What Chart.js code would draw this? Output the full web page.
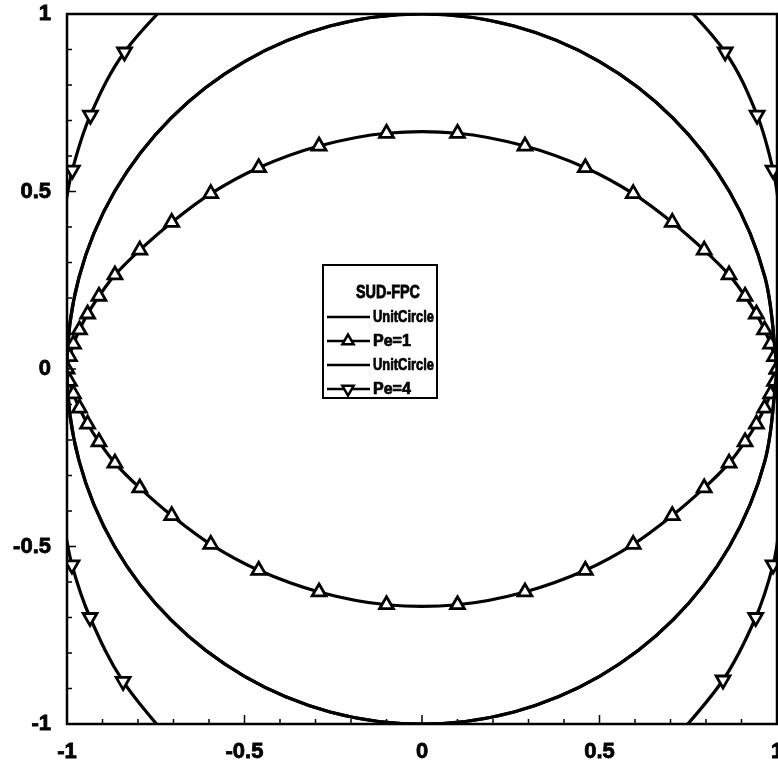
<!DOCTYPE html>
<html>
<head>
<meta charset="utf-8">
<script src="https://cdn.jsdelivr.net/npm/chart.js@4.4.1/dist/chart.umd.min.js"></script>
<style>
  html, body { margin: 0; padding: 0; background: #fff; overflow: hidden; }
  #wrap { width: 800px; height: 762px; }
</style>
</head>
<body>
<div id="wrap"><canvas id="chart"></canvas></div>
<script>
const circleX = [1, 0.966, 0.866, 0.707, 0.5, 0.259, 0, -0.259, -0.5, -0.707, -0.866, -0.966, -1,
                 -0.966, -0.866, -0.707, -0.5, -0.259, 0, 0.259, 0.5, 0.707, 0.866, 0.966, 1];
const circleY = [0, 0.259, 0.5, 0.707, 0.866, 0.966, 1, 0.966, 0.866, 0.707, 0.5, 0.259, 0,
                 -0.259, -0.5, -0.707, -0.866, -0.966, -1, -0.966, -0.866, -0.707, -0.5, -0.259, 0];

// Pe=1 (Dreiecke nach oben), oben von rechts nach links, unten zurueck
const pe1X = [1, 0.993, 0.982, 0.965, 0.942, 0.91, 0.865, 0.795, 0.705, 0.595, 0.46, 0.29, 0.1,
              -0.1, -0.29, -0.46, -0.595, -0.705, -0.795, -0.865, -0.91, -0.942, -0.965, -0.982, -0.993, -1,
              -0.993, -0.982, -0.965, -0.942, -0.91, -0.865, -0.795, -0.705, -0.595, -0.46, -0.29, -0.1,
              0.1, 0.29, 0.46, 0.595, 0.705, 0.795, 0.865, 0.91, 0.942, 0.965, 0.982, 0.993, 1];
const pe1Y = [0, 0.035, 0.07, 0.11, 0.155, 0.205, 0.265, 0.335, 0.413, 0.494, 0.567, 0.628, 0.664,
              0.664, 0.628, 0.567, 0.494, 0.413, 0.335, 0.265, 0.205, 0.155, 0.11, 0.07, 0.035, 0,
              -0.035, -0.07, -0.11, -0.155, -0.205, -0.265, -0.335, -0.413, -0.494, -0.567, -0.628, -0.664,
              -0.664, -0.628, -0.567, -0.494, -0.413, -0.335, -0.265, -0.205, -0.155, -0.11, -0.07, -0.035, 0];

// Pe=4 (Dreiecke nach unten), vier Boegen in den Ecken, null = Luecke
const pe4X = [-0.66, -0.838, -0.934, -0.985, -1.01, null,
              -1.01, -0.986, -0.935, -0.842, -0.68, null,
              0.68, 0.854, 0.944, 0.989, 1.01, null,
              1.01, 0.989, 0.94, 0.848, 0.68];
const pe4Y = [1.09, 0.893, 0.715, 0.56, 0.43, null,
              -0.43, -0.552, -0.70, -0.88, -1.08, null,
              1.09, 0.893, 0.715, 0.56, 0.43, null,
              -0.43, -0.552, -0.70, -0.876, -1.08];

const seriesLabels = ['UnitCircle', 'Pe=1', 'UnitCircle', 'Pe=4'];
const legendTitle = 'SUD-FPC';
const majorTicks = [-1, -0.5, 0, 0.5, 1];
const tickLabels = ['-1', '-0.5', '0', '0.5', '1'];

function toPoints(xs, ys) {
    return xs.map((x, i) => ({ x: x, y: ys[i] }));
}

function majorIndex(v) {
    const r = Math.round(v * 10) / 10;
    return majorTicks.indexOf(r);
}

// Marker nur innerhalb des Achsenbereichs
function markerRadius(c) {
    const p = c.raw;
    if (!p || p.x === null || Math.abs(p.x) > 1 || Math.abs(p.y) > 1) return 0;
    return 8;
}

function triangle(ctx, x, y, r, down) {
    const s = down ? -1 : 1;
    ctx.beginPath();
    ctx.moveTo(x, y - s * r);
    ctx.lineTo(x + r * 0.866, y + s * r * 0.5);
    ctx.lineTo(x - r * 0.866, y + s * r * 0.5);
    ctx.closePath();
    ctx.fillStyle = '#fff';
    ctx.fill();
    ctx.stroke();
}

// nach innen zeigende Striche und Rahmen
const innerTicks = {
    id: 'innerTicks',
    afterDraw(chart) {
        const ctx = chart.ctx;
        const a = chart.chartArea;
        const xs = chart.scales.x, ys = chart.scales.y;
        ctx.save();
        ctx.strokeStyle = '#000';
        ctx.lineWidth = 1.5;
        ctx.beginPath();
        xs.ticks.forEach(t => {
            const px = xs.getPixelForValue(t.value);
            const len = majorIndex(t.value) >= 0 ? 9 : 5;
            ctx.moveTo(px, a.bottom);
            ctx.lineTo(px, a.bottom - len);
        });
        ys.ticks.forEach(t => {
            const py = ys.getPixelForValue(t.value);
            const len = majorIndex(t.value) >= 0 ? 9 : 5;
            ctx.moveTo(a.left, py);
            ctx.lineTo(a.left + len, py);
        });
        ctx.stroke();
        ctx.lineWidth = 2.5;
        ctx.strokeRect(a.left, a.top, a.right - a.left, a.bottom - a.top);
        ctx.restore();
    }
};

// Legende in der Mitte des Diagramms
const legendBox = {
    id: 'legendBox',
    afterDraw(chart) {
        const ctx = chart.ctx;
        const x0 = 323, y0 = 265, w = 114, h = 133;
        ctx.save();
        ctx.fillStyle = '#fff';
        ctx.fillRect(x0, y0, w, h);
        ctx.strokeStyle = '#000';
        ctx.lineWidth = 2;
        ctx.strokeRect(x0, y0, w, h);
        ctx.fillStyle = '#000';
        ctx.textBaseline = 'middle';
        ctx.lineWidth = 0.8;
        ctx.font = 'bold 18px "Liberation Sans", Arial, sans-serif';
        ctx.textAlign = 'center';
        ctx.fillText(legendTitle, x0 + 65, y0 + 28, 64);
        ctx.strokeText(legendTitle, x0 + 65, y0 + 28, 64);
        ctx.textAlign = 'left';
        ctx.font = 'bold 16px "Liberation Sans", Arial, sans-serif';
        chart.data.datasets.forEach((ds, i) => {
            const yy = y0 + 52 + i * 24;
            ctx.lineWidth = 2.5;
            ctx.beginPath();
            ctx.moveTo(x0 + 4, yy);
            ctx.lineTo(x0 + 47, yy);
            ctx.stroke();
            if (ds.marker) {
                ctx.lineWidth = 2.5;
                triangle(ctx, x0 + 25, yy, 6.5, ds.marker === 'down');
            }
            ctx.fillStyle = '#000';
            ctx.lineWidth = 0.7;
            ctx.fillText(ds.label, x0 + 50, yy + 1, 61);
            ctx.strokeText(ds.label, x0 + 50, yy + 1, 61);
        });
        ctx.restore();
    }
};

Chart.defaults.font.family = '"Liberation Sans", Arial, sans-serif';
Chart.defaults.font.weight = 'bold';
Chart.defaults.font.size = 22;
Chart.defaults.color = '#000';

const lineStyle = {
    showLine: true,
    borderColor: '#000',
    borderWidth: 3.2,
    tension: 0.35,
    spanGaps: false,
    pointStyle: 'triangle',
    pointBackgroundColor: '#fff',
    pointBorderColor: '#000',
    pointBorderWidth: 2.8
};

const ctx = document.getElementById('chart').getContext('2d');
new Chart(ctx, {
    type: 'scatter',
    data: {
        datasets: [
            Object.assign({}, lineStyle, { label: seriesLabels[0], data: toPoints(circleX, circleY), pointRadius: 0 }),
            Object.assign({}, lineStyle, { label: seriesLabels[1], data: toPoints(pe1X, pe1Y), marker: 'up', pointRadius: markerRadius, pointRotation: 0 }),
            Object.assign({}, lineStyle, { label: seriesLabels[2], data: toPoints(circleX, circleY), pointRadius: 0 }),
            Object.assign({}, lineStyle, { label: seriesLabels[3], data: toPoints(pe4X, pe4Y), marker: 'down', pointRadius: markerRadius, pointRotation: 180 })
        ]
    },
    options: {
        responsive: true,
        maintainAspectRatio: false,
        animation: false,
        events: [],
        layout: { padding: { top: 14, right: 23, left: 0, bottom: 0 } },
        plugins: { legend: { display: false }, tooltip: { enabled: false } },
        scales: {
            x: {
                type: 'linear', min: -1, max: 1,
                grid: { display: false, drawTicks: false },
                border: { display: false },
                ticks: {
                    stepSize: 0.1, autoSkip: false, maxRotation: 0, padding: 15,
                    textStrokeColor: '#000', textStrokeWidth: 0.8,
                    callback: v => { const k = majorIndex(v); return k >= 0 ? tickLabels[k] : ''; }
                },
                afterFit: s => { s.height = 38; s.paddingLeft = 0; s.paddingRight = 0; }
            },
            y: {
                type: 'linear', min: -1, max: 1,
                grid: { display: false, drawTicks: false },
                border: { display: false },
                ticks: {
                    stepSize: 0.1, autoSkip: false, padding: 16,
                    textStrokeColor: '#000', textStrokeWidth: 0.8,
                    callback: v => { const k = majorIndex(v); return k >= 0 ? tickLabels[k] : ''; }
                },
                afterFit: s => { s.width = 67; s.paddingTop = 0; s.paddingBottom = 0; }
            }
        }
    },
    plugins: [innerTicks, legendBox]
});
</script>
</body>
</html>
